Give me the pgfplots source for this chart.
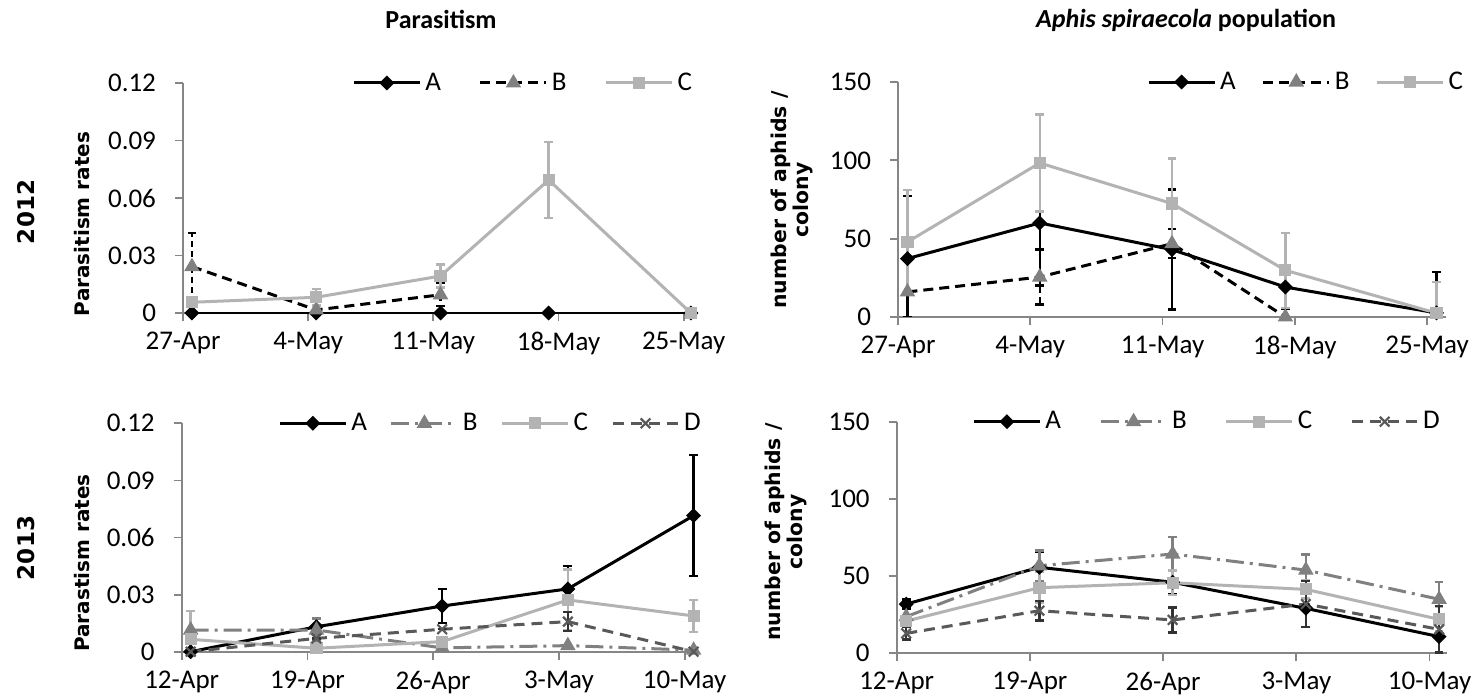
\documentclass[border=0pt]{standalone}
\usepackage{fontspec}
\setmainfont{Carlito}
\newfontfamily\vfont{DejaVu Sans}
\usepackage{pgfplots}
\pgfplotsset{compat=1.18}
\definecolor{axg}{HTML}{868686}
\definecolor{cB}{HTML}{808080}
\definecolor{cC}{HTML}{B3B3B3}
\definecolor{cD}{HTML}{595959}
\pgfplotsset{
 exc/.style={
  scale only axis,
  axis x line*=bottom, axis y line*=left,
  axis line style={draw=axg, line width=0.9pt},
  tick style={draw=axg, line width=0.9pt},
  tick align=outside, major tick length=4pt,
  ticklabel style={font=\fontsize{13.5}{15}\selectfont, text=black},
  yticklabel style={xshift=-6pt},
  xticklabel style={yshift=-2pt},
  xtick={0,7,14,21,28},
  anchor=south west,
  legend style={draw=none, fill=none, inner sep=0pt, legend columns=-1,
     font=\fontsize{13.5}{15}\selectfont, anchor=west},
  legend image code/.code={\draw[mark repeat=2,mark phase=2,##1] plot coordinates {(0pt,0pt) (16.5pt,0pt) (33pt,0pt)};},
 },
 ebs/.style n args={2}{
  error bars/y dir=both, error bars/y explicit,
  error bars/error bar style={line width=1.2pt, draw=#1, #2},
  error bars/error mark options={rotate=90, mark size=2.2pt, line width=1.2pt, draw=#1, solid},
 },
 sA/.style={black, solid, line width=1.5pt, mark=square*, mark size=1.9pt, mark options={solid, rotate=45, fill=black}, ebs={black}{solid}},
 sB12/.style={black, line width=1.5pt, dash pattern=on 5pt off 3pt, mark=triangle*, mark size=3pt, mark options={solid, fill=cB, draw=cB}, ebs={black}{dash pattern=on 3pt off 2pt}},
 sC/.style={cC, solid, line width=1.5pt, mark=square*, mark size=2.3pt, mark options={solid, fill=cC, draw=cC}, ebs={cC}{solid}},
 sB13/.style={cB, line width=1.5pt, dash pattern=on 9pt off 3pt on 1.5pt off 3pt, mark=triangle*, mark size=3pt, mark options={solid, fill=cB, draw=cB}, ebs={cB}{solid}},
 sD/.style={cD, line width=1.5pt, dash pattern=on 5.5pt off 3.5pt, mark=x, mark size=3.4pt, mark options={solid, draw=cD, line width=1.1pt}, ebs={black!80}{solid}},
}
\begin{document}
\begin{tikzpicture}
\path[use as bounding box] (0pt,0pt) rectangle (742pt,-350pt);
% titles
\node[font=\bfseries\fontsize{13}{15}\selectfont] at (220.5pt,-9.5pt) {Parasitism};
\node[font=\bfseries\fontsize{13}{15}\selectfont] at (593pt,-10pt) {\textit{Aphis spiraecola} population};
\node[rotate=90, font=\vfont\bfseries\fontsize{11.5}{13}\selectfont] at (13pt,-106pt) {2012};
\node[rotate=90, font=\vfont\bfseries\fontsize{11.5}{13}\selectfont] at (13pt,-274pt) {2013};
\node[rotate=90, font=\vfont\bfseries\fontsize{10}{12}\selectfont] at (41pt,-112pt) {Parasitism rates};
\node[rotate=90, font=\vfont\bfseries\fontsize{10}{12}\selectfont] at (41pt,-281.5pt) {Parastism rates};
\node[rotate=90, align=center, font=\vfont\bfseries\fontsize{10.2}{11}\selectfont] at (396pt,-100pt) {number of aphids /\\colony};
\node[rotate=90, align=center, font=\vfont\bfseries\fontsize{10.2}{11}\selectfont] at (393pt,-266pt) {number of aphids /\\colony};

% ---------- 2012 parasitism
\begin{axis}[exc, at={(91.5pt,-156.5pt)}, width=257.5pt, height=115pt,
  xmin=0, xmax=28.8, ymin=0, ymax=0.12,
  ytick={0,0.03,0.06,0.09,0.12}, yticklabels={0,0.03,0.06,0.09,0.12},
  xticklabels={27-Apr,4-May,11-May,18-May,25-May},
  legend style={at={(rel axis cs:0.328,1)}, /tikz/every even column/.append style={column sep=17pt}}]
\addplot[sA] coordinates {(0.5,0) +- (0,0) (7.45,0) +- (0,0) (14.4,0) +- (0,0) (20.45,0) +- (0,0) (28.4,0) +- (0,0)};
\addlegendentry{A}
\addplot[sB12] coordinates {(0.5,0.0242) += (0,0.0175) -= (0,0.0242) (7.45,0.0016) +- (0,0) (14.4,0.0095) +- (0,0.006)};
\addlegendentry{B}
\addplot[sC] coordinates {(0.5,0.0056) +- (0,0) (7.45,0.0082) +- (0,0.0042) (14.4,0.0193) +- (0,0.006) (20.45,0.0694) +- (0,0.0198) (28.4,0) +- (0,0)};
\addlegendentry{C}
\end{axis}

% ---------- 2012 aphids
\begin{axis}[exc, at={(449pt,-158.5pt)}, width=274pt, height=117.5pt,
  xmin=0, xmax=29.0, ymin=0, ymax=150,
  ytick={0,50,100,150}, yticklabels={0,50,100,150},
  xticklabels={27-Apr,4-May,11-May,18-May,25-May},
  legend style={at={(rel axis cs:0.454,1)}, /tikz/every even column/.append style={column sep=11pt}}]
\addplot[sA] coordinates {(0.5,37.3) += (0,40) -= (0,37.3) (7.5,60.0) +- (0,40) (14.5,43.0) +- (0,38.3) (20.5,19.1) +- (0,0) (28.5,2.6) += (0,26) -= (0,2.6)};
\addlegendentry{A}
\addplot[sB12] coordinates {(0.5,16.0) +- (0,0) (7.5,25.5) +- (0,17.5) (14.5,46.8) +- (0,9.2) (20.5,0) += (0,5.3) -= (0,0)};
\addlegendentry{B}
\addplot[sC] coordinates {(0.5,47.9) +- (0,33) (7.5,98.3) +- (0,31) (14.5,72.4) +- (0,28.7) (20.5,29.8) +- (0,24) (28.5,2.5) += (0,20) -= (0,2.5)};
\addlegendentry{C}
\end{axis}

% ---------- 2013 parasitism
\begin{axis}[exc, at={(90.85pt,-325.85pt)}, width=258.65pt, height=114.2pt,
  xmin=0, xmax=28.8, ymin=0, ymax=0.12,
  ytick={0,0.03,0.06,0.09,0.12}, yticklabels={0,0.03,0.06,0.09,0.12},
  xticklabels={12-Apr,19-Apr,26-Apr,3-May,10-May},
  legend style={at={(rel axis cs:0.186,1)}, /tikz/every even column/.append style={column sep=9.5pt}}]
\addplot[sA] coordinates {(0.5,0) +- (0,0) (7.5,0.0131) +- (0,0.004) (14.5,0.024) +- (0,0.009) (21.5,0.033) +- (0,0.012) (28.5,0.0715) +- (0,0.0318)};
\addlegendentry{A}
\addplot[sB13] coordinates {(0.5,0.0114) +- (0,0) (7.5,0.0114) +- (0,0.006) (14.5,0.002) +- (0,0) (21.5,0.0032) +- (0,0) (28.5,0.0008) +- (0,0)};
\addlegendentry{B}
\addplot[sC] coordinates {(0.5,0.0065) += (0,0.015) -= (0,0.0065) (7.5,0.0018) +- (0,0) (14.5,0.0053) +- (0,0) (21.5,0.0272) +- (0,0.016) (28.5,0.0188) +- (0,0.0085)};
\addlegendentry{C}
\addplot[sD] coordinates {(0.5,0) +- (0,0) (7.5,0.007) +- (0,0) (14.5,0.0118) +- (0,0) (21.5,0.0158) +- (0,0.005) (28.5,0) +- (0,0)};
\addlegendentry{D}
\end{axis}

% ---------- 2013 aphids
\begin{axis}[exc, at={(448.35pt,-326.65pt)}, width=275pt, height=115.8pt,
  xmin=0, xmax=28.9, ymin=0, ymax=150,
  ytick={0,50,100,150}, yticklabels={0,50,100,150},
  xticklabels={12-Apr,19-Apr,26-Apr,3-May,10-May},
  legend style={at={(rel axis cs:0.137,1)}, /tikz/every even column/.append style={column sep=17pt}}]
\addplot[sA] coordinates {(0.5,31.9) +- (0,3) (7.5,55.7) +- (0,10) (14.5,46.0) +- (0,7.5) (21.5,29.1) +- (0,12) (28.5,10.8) +- (0,10.5)};
\addlegendentry{A}
\addplot[sB13] coordinates {(0.5,23.7) +- (0,0) (7.5,56.7) +- (0,10) (14.5,64.3) +- (0,11) (21.5,53.9) +- (0,10) (28.5,35.0) +- (0,11)};
\addlegendentry{B}
\addplot[sC] coordinates {(0.5,20.9) +- (0,3) (7.5,42.5) +- (0,10) (14.5,45.7) +- (0,8) (21.5,41.4) +- (0,6) (28.5,22.0) +- (0,8)};
\addlegendentry{C}
\addplot[sD] coordinates {(0.5,12.9) +- (0,4) (7.5,27.6) +- (0,6.4) (14.5,21.6) +- (0,8) (21.5,31.9) +- (0,15) (28.5,15.5) +- (0,15)};
\addlegendentry{D}
\end{axis}
\end{tikzpicture}
\end{document}
